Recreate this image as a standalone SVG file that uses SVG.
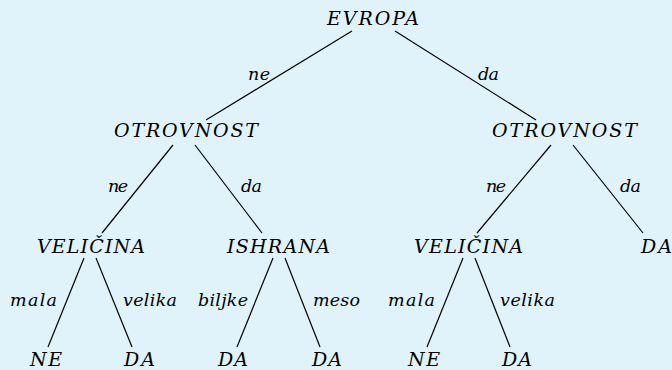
<svg xmlns="http://www.w3.org/2000/svg" width="672" height="370" viewBox="0 0 672 370">
<style>
line{stroke:#000;stroke-width:1.2}
.t{font-family:"DejaVu Serif",serif;font-style:italic}
</style>
<rect width="672" height="370" fill="#e0f3fa"/>
<g id="edges">
<line x1="352" y1="31" x2="206" y2="120"/>
<line x1="395" y1="31" x2="536" y2="120"/>
<line x1="173" y1="145" x2="102" y2="233"/>
<line x1="195" y1="145" x2="262" y2="233"/>
<line x1="551" y1="145" x2="477" y2="233"/>
<line x1="573" y1="145" x2="643" y2="233"/>
<line x1="84" y1="258" x2="48" y2="347"/>
<line x1="96" y1="258" x2="132" y2="347"/>
<line x1="273" y1="258" x2="237" y2="347"/>
<line x1="285" y1="258" x2="320" y2="347"/>
<line x1="463" y1="258" x2="427" y2="347"/>
<line x1="475" y1="258" x2="510" y2="347"/>
<g class="t" font-size="17.5">
<text x="248" y="80" textLength="22" lengthAdjust="spacing">ne</text>
<text x="478" y="80" textLength="21" lengthAdjust="spacing">da</text>
<text x="108" y="192" textLength="20" lengthAdjust="spacing">ne</text>
<text x="241" y="192" textLength="21" lengthAdjust="spacing">da</text>
<text x="486" y="192" textLength="20" lengthAdjust="spacing">ne</text>
<text x="620" y="192" textLength="21" lengthAdjust="spacing">da</text>
<text x="10" y="306" textLength="47" lengthAdjust="spacing">mala</text>
<text x="123" y="306" textLength="54" lengthAdjust="spacing">velika</text>
<text x="198" y="306" textLength="50" lengthAdjust="spacing">biljke</text>
<text x="313" y="306" textLength="47" lengthAdjust="spacing">meso</text>
<text x="388" y="306" textLength="47" lengthAdjust="spacing">mala</text>
<text x="500" y="306" textLength="55" lengthAdjust="spacing">velika</text>
</g>
</g>
<g class="t" font-size="19">
<g id="n-evropa"><text x="327" y="25" textLength="92" lengthAdjust="spacing">EVROPA</text></g>
<g id="n-otrovnost1"><text x="114" y="137" textLength="144" lengthAdjust="spacing">OTROVNOST</text></g>
<g id="n-otrovnost2"><text x="492" y="137" textLength="145" lengthAdjust="spacing">OTROVNOST</text></g>
<g id="n-velicina1"><text x="37" y="253" textLength="108" lengthAdjust="spacing">VELIČINA</text></g>
<g id="n-ishrana"><text x="227" y="253" textLength="103" lengthAdjust="spacing">ISHRANA</text></g>
<g id="n-velicina2"><text x="414" y="253" textLength="109" lengthAdjust="spacing">VELIČINA</text></g>
<g id="n-da1"><text x="641" y="253" textLength="31" lengthAdjust="spacing">DA</text></g>
<g id="n-ne1"><text x="30" y="366" textLength="32" lengthAdjust="spacing">NE</text></g>
<g id="n-da2"><text x="124" y="366" textLength="31" lengthAdjust="spacing">DA</text></g>
<g id="n-da3"><text x="218" y="366" textLength="30" lengthAdjust="spacing">DA</text></g>
<g id="n-da4"><text x="312" y="366" textLength="30" lengthAdjust="spacing">DA</text></g>
<g id="n-ne2"><text x="408" y="366" textLength="32" lengthAdjust="spacing">NE</text></g>
<g id="n-da5"><text x="502" y="366" textLength="30" lengthAdjust="spacing">DA</text></g>
</g>
</svg>
